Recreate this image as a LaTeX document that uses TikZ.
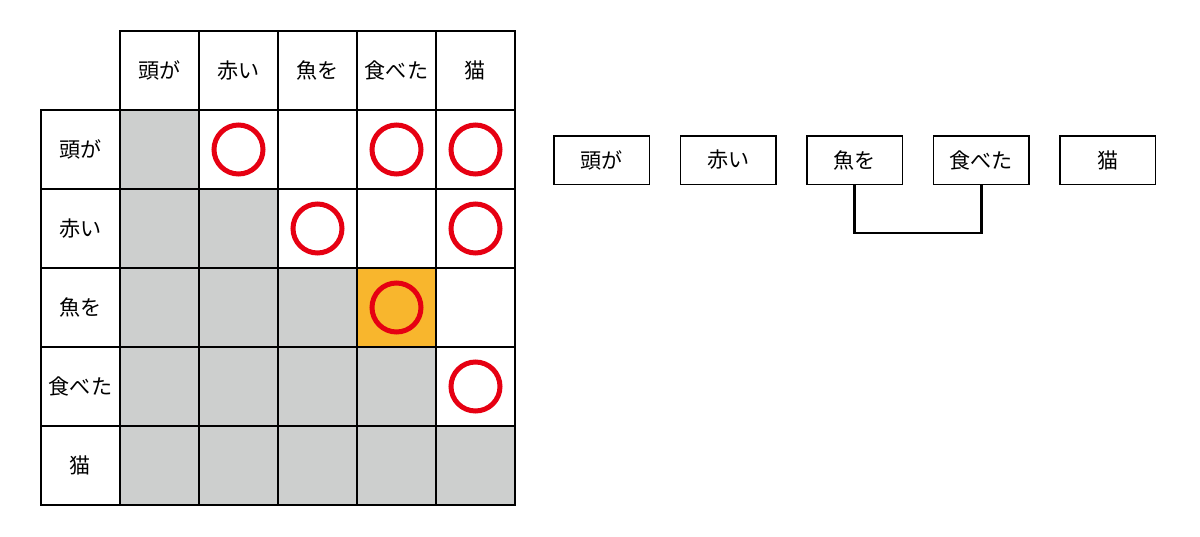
\documentclass[tikz,border=0pt]{standalone}
\usepackage{fontspec}
\setmainfont{Noto Sans CJK JP}
\usetikzlibrary{positioning}
\definecolor{markred}{HTML}{E60012}
\definecolor{cellgray}{HTML}{CDCFCE}
\definecolor{cellorange}{HTML}{F8B62D}

\begin{document}
\begin{tikzpicture}[x=0.3mm,y=-0.3mm,
		cell/.style={draw=black,line width=0.45mm},
		maru/.style={draw=markred,line width=1.5mm},
		word/.style={draw,line width=0.45mm,minimum width=28.65mm,minimum height=14.55mm,inner sep=0pt},
		node distance=8.88mm,
		font=\fontsize{18}{20}\selectfont]
			\useasboundingbox (0,0) rectangle (1200,537);
			% shaded cells
			\foreach \r in {1,...,5}
				\foreach \c in {1,...,\r}
					\fill[cellgray] (41+79*\c,31+79*\r) rectangle ++(79,79);
			\fill[cellorange] (41+79*4,31+79*3) rectangle ++(79,79);
			% table
			\foreach \c in {1,...,5} \draw[cell] (41+79*\c,31) rectangle ++(79,79);
			\foreach \r in {1,...,5} \draw[cell] (41,31+79*\r) rectangle ++(79,79);
			\foreach \r in {1,...,5}
				\foreach \c in {1,...,5}
					\draw[cell] (41+79*\c,31+79*\r) rectangle ++(79,79);
			\foreach \w [count=\i] in {頭が,赤い,魚を,食べた,猫} {
				\node (col\i) at (80.5+79*\i,70.5) {\w};
				\node (row\i) at (80.5,70.5+79*\i) {\w};
			}
			\foreach \r/\c in {1/2,1/4,1/5,2/3,2/5,3/4,4/5}
				\draw[maru] (80.5+79*\c,70.5+79*\r) circle [radius=24.5];
			% words
			\node[word] (w1) at (601.5,160) {頭が};
			\node[word,right=of w1] (w2) {赤い};
			\node[word,right=of w2] (w3) {魚を};
			\node[word,right=of w3] (w4) {食べた};
			\node[word,right=of w4] (w5) {猫};
			\draw[line width=0.8mm] (w3.south) -- ++(0,48) -| (w4.south);
		\end{tikzpicture}
\end{document}
